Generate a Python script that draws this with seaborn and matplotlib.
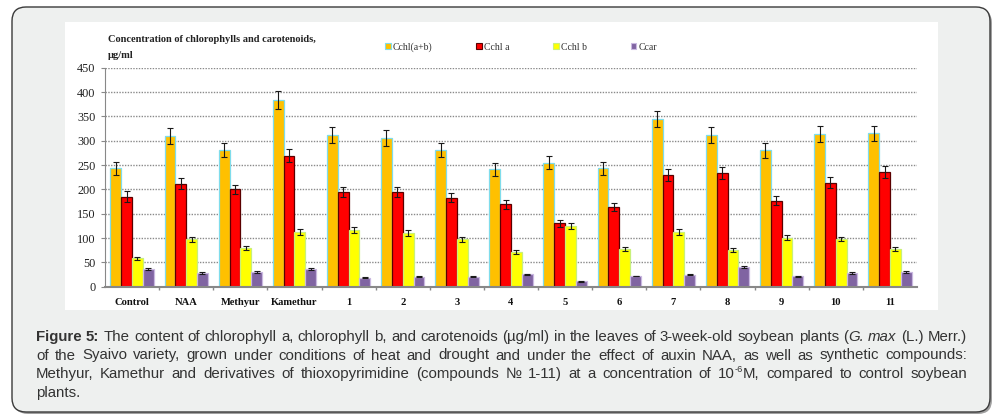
import numpy as np
import pandas as pd
import matplotlib
matplotlib.use("Agg")
import matplotlib.pyplot as plt
import seaborn as sns
from matplotlib.patches import FancyBboxPatch, Rectangle, Patch
from matplotlib.transforms import IdentityTransform

# ---------------- data ----------------
categories = ["Control", "NAA", "Methyur", "Kamethur", "1", "2", "3", "4", "5",
              "6", "7", "8", "9", "10", "11"]
series = ["Cchl(a+b)", "Cchl a", "Cchl b", "Ccar"]
chl_ab = [243, 310, 281, 384, 312, 306, 281, 241, 255, 243, 345, 312, 280, 314, 315]
chl_a = [185, 212, 200, 269, 194, 194, 183, 169, 130, 164, 229, 234, 177, 214, 235]
chl_b = [58, 97, 80, 113, 116, 111, 97, 71, 124, 77, 113, 76, 101, 98, 78]
car = [37, 28, 31, 37, 18, 20, 20, 26, 11, 22, 25, 41, 21, 29, 31]
err_ab = [14, 16, 15, 19, 16, 16, 15, 13, 14, 13, 17, 16, 15, 16, 16]
err_a = [11, 11, 10, 13, 10, 10, 9, 9, 7, 8, 12, 12, 9, 11, 12]
err_b = [4, 5, 4, 6, 6, 6, 5, 4, 6, 4, 6, 4, 5, 5, 4]
err_car = [2, 2, 2, 2, 1, 1, 1, 1, 1, 1, 1, 2, 1, 2, 2]
yticks = [0, 50, 100, 150, 200, 250, 300, 350, 400, 450]

values = [chl_ab, chl_a, chl_b, car]
errors = [err_ab, err_a, err_b, err_car]
fills = ["#FFC000", "#FF0000", "#FFFF00", "#8064A2"]
edges = ["#7FDCEB", "#5A0000", "#C8F07A", "#C9B8E0"]

df = pd.DataFrame({
    "category": [c for _ in series for c in categories],
    "series": [s for s in series for _ in categories],
    "value": [v for vals in values for v in vals],
})

W, H = 1006, 420
fig = plt.figure(figsize=(W / 100, H / 100), dpi=100)
fig.patch.set_facecolor("white")
ID = IdentityTransform()

# outer rounded box with shadow
shadow = FancyBboxPatch((14, H - 414), 978, 405, boxstyle="round,pad=0,rounding_size=14",
                        transform=ID, facecolor="#a0a0a0", edgecolor="none", zorder=-30)
box = FancyBboxPatch((12, H - 412), 978, 405, boxstyle="round,pad=0,rounding_size=14",
                     transform=ID, facecolor="#EEF0EF", edgecolor="#3a3a3a", lw=1.0, zorder=-20)
panel = Rectangle((65, H - 310), 873, 288, transform=ID, facecolor="white",
                  edgecolor="none", zorder=-10)
for p in (shadow, box, panel):
    fig.add_artist(p)

ax = fig.add_axes([105 / W, (H - 286.7) / H, (917 - 105) / W, (286.7 - 67.7) / H])
ax.patch.set_alpha(0)

sns.barplot(data=df, x="category", y="value", hue="series", order=categories,
            hue_order=series, palette=fills, errorbar=None, linewidth=0.9,
            saturation=1, ax=ax, legend=False)

for cont, ec, vals, errs in zip(ax.containers, edges, values, errors):
    xs = []
    for bar in cont:
        bar.set_edgecolor(ec)
        xs.append(bar.get_x() + bar.get_width() / 2)
    ax.errorbar(xs, vals, yerr=errs, fmt="none", ecolor="#1a1a1a",
                elinewidth=0.8, capsize=2.2, capthick=0.8, zorder=5)

ax.set_ylim(0, 450)
ax.set_xlim(-0.5, len(categories) - 0.5)
ax.set_yticks(yticks)
ax.set_yticklabels([str(t) for t in yticks], family="Liberation Serif", fontsize=8.8,
                   color="#222222")
ax.set_xticks(range(len(categories)))
ax.set_xticklabels(categories, family="Liberation Serif", fontweight="bold",
                   fontsize=7.6, color="#111111")
ax.set_xticks(np.arange(0.5, len(categories) - 0.5, 1), minor=True)
ax.tick_params(axis="x", which="major", length=0, pad=8)
ax.tick_params(axis="x", which="minor", length=2.5, color="#888888", width=1)
ax.tick_params(axis="y", length=3, color="#888888", pad=4)
ax.set_xlabel("")
ax.set_ylabel("")
ax.yaxis.grid(True, color="#8a8a8a", linestyle=(0, (1, 1)), linewidth=1)
ax.set_axisbelow(True)
for s in ("top", "right"):
    ax.spines[s].set_visible(False)
ax.spines["left"].set_color("#888888")
ax.spines["bottom"].set_color("#888888")
ax.spines["bottom"].set_linewidth(1.5)

# title
fig.text(108 / W, 1 - 40 / H, "Concentration of chlorophylls and carotenoids,",
         family="Liberation Serif", fontweight="bold", fontsize=7.5, va="center",
         color="#222222")
fig.text(108 / W, 1 - 55 / H, "µg/ml", family="Liberation Serif", fontweight="bold",
         fontsize=7.5, va="center", color="#222222")

# legend
handles = [Patch(facecolor=f, edgecolor=e, lw=0.8) for f, e in zip(fills, edges)]
fig.legend(handles, series, loc="center left", bbox_to_anchor=(380 / W, 1 - 47 / H),
           ncol=4, frameon=False, prop={"family": "Liberation Serif", "size": 7},
           handlelength=0.6, handleheight=0.6, handletextpad=0.2, columnspacing=4.5,
           borderpad=0, labelcolor="#333333")

# caption (justified, font size fitted to the first line)
CAP_FAM = ["Liberation Sans", "DejaVu Sans"]
N = {}
B = {"fontweight": "bold"}
I = {"fontstyle": "italic"}
lines = [
    [[("Figure", B)], [("5:", B)]] +
    [[(w, N)] for w in "The content of chlorophyll a, chlorophyll b, and carotenoids (µg/ml) in the leaves of 3-week-old soybean plants".split()] +
    [[("(", N), ("G.", I)], [("max", I)], [("(L.)", N)], [("Merr.)", N)]],
    [[(w, N)] for w in "of the Syaivo variety, grown under conditions of heat and drought and under the effect of auxin NAA, as well as synthetic compounds:".split()],
    [[(w, N)] for w in "Methyur, Kamethur and derivatives of thioxopyrimidine (compounds № 1-11) at a concentration of".split()] +
    [[("10", N), ("-6", {"rel": 0.62, "dy": 0.42}), ("M,", N)]] +
    [[(w, N)] for w in "compared to control soybean".split()],
    [[("plants.", N)]],
]
baselines = [341, 359.5, 378, 396.5]
L, R = 36, 967
BASE = 10.0
renderer = fig.canvas.get_renderer()

all_lines = []
for words in lines:
    line_items = []
    for word in words:
        segs = []
        for text, props in word:
            kw = dict(props)
            dy = kw.pop("dy", 0)
            rel = kw.pop("rel", 1.0)
            t = fig.text(0, 0, text, transform=ID, family=CAP_FAM, fontsize=BASE * rel,
                         va="baseline", ha="left", color="#333333", **kw)
            segs.append([t, rel, dy])
        line_items.append(segs)
    all_lines.append(line_items)


def word_widths(line_items):
    return [sum(t.get_window_extent(renderer).width for t, _, _ in segs)
            for segs in line_items]


# fit size so that line 1 with normal spaces fills the measure
ws = word_widths(all_lines[0])
space_px = 0.278 * BASE * 100 / 72
natural = sum(ws) + (len(ws) - 1) * space_px
size = BASE * (R - L) / natural
size = max(8.5, min(size, 12.0))
for line_items in all_lines:
    for segs in line_items:
        for seg in segs:
            seg[0].set_fontsize(size * seg[1])

size_px = size * 100 / 72
for li, (line_items, yb) in enumerate(zip(all_lines, baselines)):
    ws = word_widths(line_items)
    justify = li < len(all_lines) - 1
    gap = (R - L - sum(ws)) / (len(ws) - 1) if justify else 0.278 * size_px
    x = L
    for segs, w_tot in zip(line_items, ws):
        for t, rel, dy in segs:
            t.set_position((x, H - yb + dy * size_px))
            x += t.get_window_extent(renderer).width
        x += gap

fig.savefig("out.png", dpi=100)
